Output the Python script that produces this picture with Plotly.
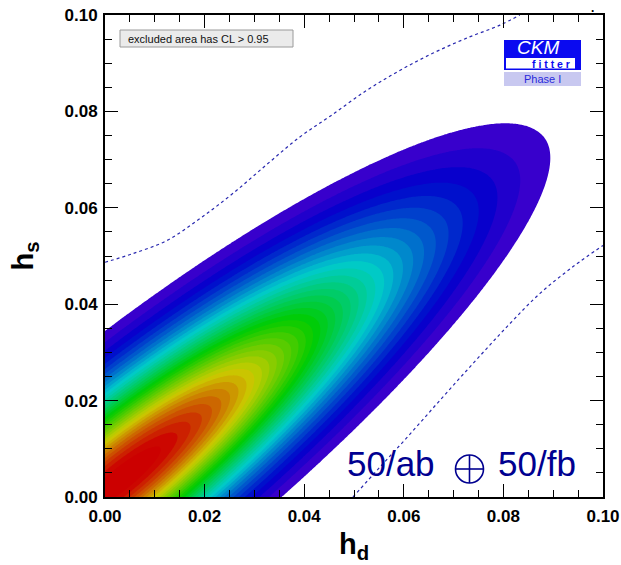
import colorsys
import numpy as np
import plotly.graph_objects as go

# ---------------- data ----------------
tick_vals = [0.0, 0.02, 0.04, 0.06, 0.08, 0.10]
tick_text = ["0.00", "0.02", "0.04", "0.06", "0.08", "0.10"]

# 95% CL region (50/ab + 50/fb) described as an ellipse
best_fit = [0.0033, 0.0037]          # (h_d, h_s) of the most likely point
ellipse_angle_deg = 40.0             # orientation of the long axis
half_axis_along = 0.1106             # half length of the long axis (95% CL)
half_axis_above = 0.026              # half width above the ridge (95% CL)
half_axis_below = 0.024              # half width below the ridge (95% CL)
chi2_95 = 5.991                      # 2 dof, CL = 0.95

# dashed 95% CL curves (current constraint)
dash_upper_hd = [0.0, 0.0056, 0.0124, 0.0191, 0.0257, 0.0325, 0.0390, 0.0452,
                 0.0526, 0.0592, 0.0659, 0.0726, 0.0793, 0.0833]
dash_upper_hs = [0.0487, 0.0505, 0.0532, 0.0578, 0.0630, 0.0690, 0.0746, 0.0790,
                 0.0844, 0.0885, 0.0921, 0.0952, 0.0979, 0.1000]
dash_lower_hd = [0.0498, 0.0552, 0.0606, 0.0672, 0.0739, 0.0806, 0.0873, 0.0940, 0.1000]
dash_lower_hs = [0.0, 0.0062, 0.0123, 0.0200, 0.0277, 0.0352, 0.0422, 0.0478, 0.0522]

# contour levels of 1-CL
lev_start, lev_end, lev_size = 0.05, 1.0, 0.025
p_red = 0.97                         # 1-CL above which the palette is pure red

# ---------------- p-value map ----------------
hd_grid = np.linspace(0.0, 0.1, 301)
hs_grid = np.linspace(0.0, 0.1, 301)
X, Y = np.meshgrid(hd_grid, hs_grid)
th = np.radians(ellipse_angle_deg)
dx, dy = X - best_fit[0], Y - best_fit[1]
u = dx * np.cos(th) + dy * np.sin(th)
v = -dx * np.sin(th) + dy * np.cos(th)
bw = np.where(v > 0, half_axis_above, half_axis_below)
R2 = (u / half_axis_along) ** 2 + (v / bw) ** 2
pval = np.exp(-chi2_95 * R2 / 2.0)

# ---------------- colour scale (rainbow, white below 0.05) ----------------
nc = int(np.floor((lev_end + lev_size / 1e6 - lev_start) / lev_size)) + 1
lo = lev_start - lev_size / 2
span = nc * lev_size


def frac(p):
    return (p - lo) / span


def hue_col(p):
    h = max(0.0, 260.0 * (p_red - p) / (p_red - lev_start))
    r, g, b = colorsys.hls_to_rgb(h / 360.0, 0.4, 1.0)
    return f"rgb({int(round(r*255))},{int(round(g*255))},{int(round(b*255))})"


cscale = [[0.0, "white"], [frac(lev_start) - 1e-4, "white"]]
ps = np.linspace(lev_start, lo + span, 60)
for i, p in enumerate(ps):
    f = 1.0 if i == len(ps) - 1 else frac(p)
    cscale.append([f, hue_col(p)])

fig = go.Figure()
fig.add_trace(go.Contour(
    x=hd_grid, y=hs_grid, z=pval,
    contours=dict(start=lev_start, end=lev_end, size=lev_size,
                  coloring="fill", showlines=False),
    line=dict(width=0), colorscale=cscale, showscale=False,
    hoverinfo="skip"))

for xs, ys in [(dash_upper_hd, dash_upper_hs), (dash_lower_hd, dash_lower_hs)]:
    fig.add_trace(go.Scatter(
        x=xs, y=ys, mode="lines",
        line=dict(color="rgb(40,40,175)", width=1.2, dash="3px,3px", shape="spline"),
        hoverinfo="skip", showlegend=False))

# ---------------- layout ----------------
L, R, T, B = 105, 18, 15, 68
W, H = 621, 565
pw, ph = W - L - R, H - T - B


def px(xp):
    return (xp - L) / pw


def py(yp):
    return (H - B - yp) / ph


tickfont = dict(family="Liberation Sans, Arial, sans-serif", size=17, color="black", weight="bold")
axis_common = dict(
    range=[0, 0.1], tickvals=tick_vals, ticktext=tick_text,
    ticks="inside", ticklen=13, tickwidth=1.2, tickcolor="black",
    showline=True, linecolor="black", linewidth=2, mirror="ticks",
    showgrid=False, zeroline=False, tickfont=tickfont, automargin=False,
    minor=dict(ticks="inside", ticklen=7, tickwidth=1.2, tickcolor="black",
               dtick=0.005, tick0=0, showgrid=False),
)

titlefont = dict(family="Liberation Sans, Arial, sans-serif", size=29, color="black", weight="bold")
fig.update_layout(
    width=W, height=H, autosize=False,
    margin=dict(l=L, r=R, t=T, b=B),
    paper_bgcolor="white", plot_bgcolor="white",
    showlegend=False,
    xaxis=dict(**axis_common, ticklabelstandoff=3,
               title=dict(text="h<sub>d</sub>", font=titlefont, standoff=8)),
    yaxis=dict(**axis_common, ticklabelstandoff=2,
               title=dict(text="h<sub>s</sub>", font=titlefont, standoff=22)),
)

navy = "#000090"
shapes = [
    # CL legend box
    dict(type="rect", xref="paper", yref="paper", x0=px(120), x1=px(293), y0=py(47), y1=py(30),
         fillcolor="#ebebeb", line=dict(color="#9a9a9a", width=1), layer="above"),
    # CKMfitter logo
    dict(type="rect", xref="paper", yref="paper", x0=px(504), x1=px(581), y0=py(70), y1=py(40),
         fillcolor="rgb(10,10,240)", line=dict(width=0), layer="above"),
    dict(type="rect", xref="paper", yref="paper", x0=px(506), x1=px(575), y0=py(68.5), y1=py(58),
         fillcolor="white", line=dict(width=0), layer="above"),
    dict(type="rect", xref="paper", yref="paper", x0=px(504), x1=px(581), y0=py(86), y1=py(72),
         fillcolor="rgb(200,200,240)", line=dict(width=0), layer="above"),
    # circled plus of the luminosity label
    dict(type="circle", xref="paper", yref="paper", x0=px(455.5), x1=px(483.5), y0=py(483), y1=py(455),
         line=dict(color=navy, width=1.6), layer="above"),
    dict(type="line", xref="paper", yref="paper", x0=px(455.5), x1=px(483.5), y0=py(469), y1=py(469),
         line=dict(color=navy, width=1.6), layer="above"),
    dict(type="line", xref="paper", yref="paper", x0=px(469.5), x1=px(469.5), y0=py(483), y1=py(455),
         line=dict(color=navy, width=1.6), layer="above"),
]
fig.update_layout(shapes=shapes)

ann_font = "Liberation Sans, Arial, sans-serif"
annotations = [
    dict(text="excluded area has CL > 0.95", x=px(126), y=py(38.5), xanchor="left", yanchor="middle",
         font=dict(family=ann_font, size=11, color="#111111")),
    dict(text="CKM", x=px(538), y=py(47.8), xanchor="center", yanchor="middle", borderpad=0,
         font=dict(family=ann_font, size=19, color="white", style="italic")),
    dict(text="f i t t e r", x=px(551), y=py(64.5), xanchor="center", yanchor="middle", borderpad=0,
         font=dict(family=ann_font, size=10.5, color="rgb(10,10,240)", weight="bold")),
    dict(text="Phase I", x=px(542), y=py(79), xanchor="center", yanchor="middle", borderpad=0,
         font=dict(family=ann_font, size=11, color="rgb(40,40,220)")),
    dict(text="50/ab", x=px(345), y=py(463), xanchor="left", yanchor="middle",
         font=dict(family=ann_font, size=35, color=navy)),
    dict(text="50/fb", x=px(496), y=py(463), xanchor="left", yanchor="middle",
         font=dict(family=ann_font, size=35, color=navy)),
    dict(text=".", x=px(592), y=py(0), xanchor="center", yanchor="top", borderpad=0,
         font=dict(family=ann_font, size=12, color="black", weight="bold")),
]
for a in annotations:
    a.update(xref="paper", yref="paper", showarrow=False)
fig.update_layout(annotations=annotations)

fig.write_html("out.html", config={"displayModeBar": False},
               post_script="document.body.style.margin='0px';document.body.style.overflow='hidden';")
